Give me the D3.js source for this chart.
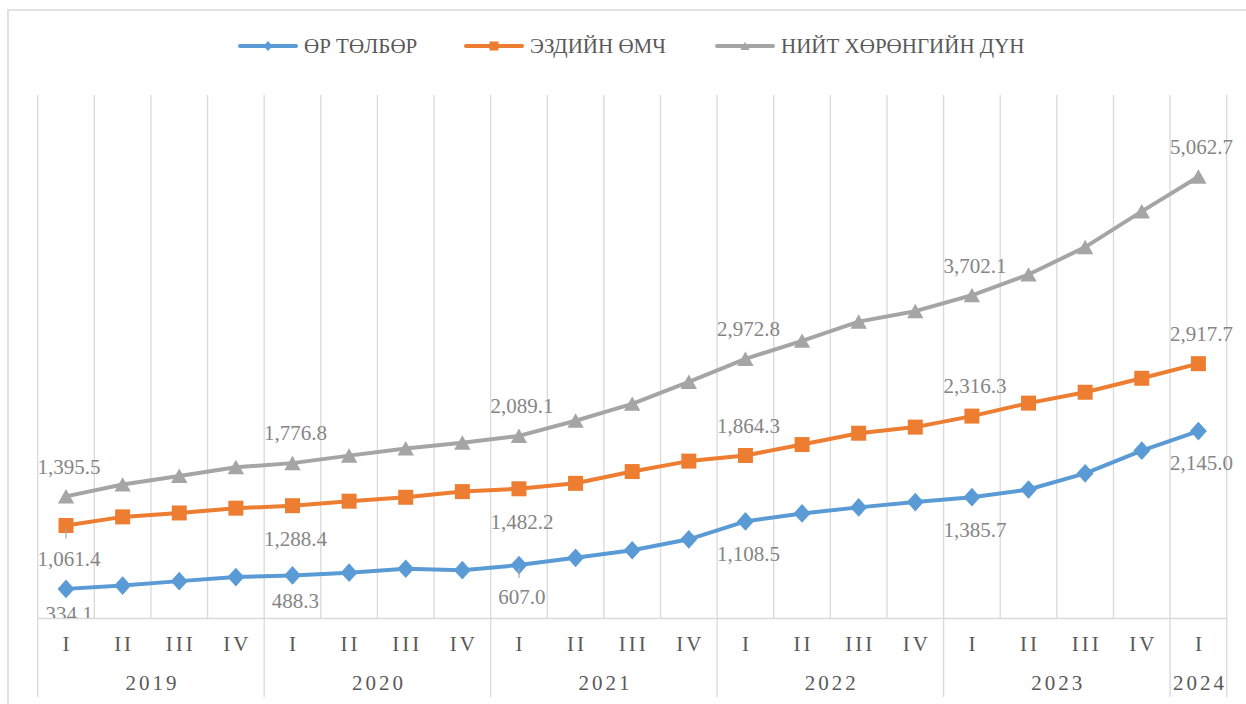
<!DOCTYPE html>
<html>
<head>
<meta charset="utf-8">
<script src="https://cdn.jsdelivr.net/npm/d3@7"></script>
<style>
  html, body { margin: 0; padding: 0; background: #fff; }
  svg { display: block; }
  text { font-family: "Liberation Serif", "DejaVu Serif", serif; }
</style>
</head>
<body>
<svg id="chart" width="1246" height="704"></svg>
<script>
// ---- Data ----
const categories = [
  "2019|I","2019|II","2019|III","2019|IV",
  "2020|I","2020|II","2020|III","2020|IV",
  "2021|I","2021|II","2021|III","2021|IV",
  "2022|I","2022|II","2022|III","2022|IV",
  "2023|I","2023|II","2023|III","2023|IV",
  "2024|I"
];
const years = ["2019","2020","2021","2022","2023","2024"];
const seriesNames = ["ӨР ТӨЛБӨР", "ЭЗДИЙН ӨМЧ", "НИЙТ ХӨРӨНГИЙН ДҮН"];
const debt = [334.1, 372, 423, 469, 488.3, 520, 565, 549, 607.0, 690, 777, 903,
              1108.5, 1200, 1269, 1330, 1385.7, 1474, 1660, 1920, 2145.0];
const equity = [1061.4, 1160, 1205, 1260, 1288.4, 1340, 1385, 1450, 1482.2, 1545, 1680, 1800,
                1864.3, 1990, 2120, 2190, 2316.3, 2465, 2590, 2750, 2917.7];
const total = [1395.5, 1531, 1630, 1730, 1776.8, 1863, 1945, 2011, 2089.1, 2263, 2457, 2709,
               2972.8, 3180, 3400, 3520, 3702.1, 3940, 4255, 4665, 5062.7];
const yDomain = [0, 6000];

(function () {
// ---- Layout / style ----
const colors = ["#5b9bd5", "#ed7d31", "#a5a5a5"];
const markers = ["diamond", "square", "triangle"];
const pLeft = 37.7, pRight = 1226.7, pTop = 95, pBottom = 618;
const gridColor = "#d9d9d9";
const svg = d3.select("#chart");

svg.append("rect").attr("width", 1246).attr("height", 704).attr("fill", "#fff");
svg.append("rect").attr("x", 8).attr("y", 10).attr("width", 1400).attr("height", 900)
  .attr("fill", "none").attr("stroke", gridColor).attr("stroke-width", 1.5);

const x = d3.scaleBand().domain(categories).range([pLeft, pRight]).padding(0);
const y = d3.scaleLinear().domain(yDomain).range([pBottom, pTop]);
const cx = c => x(c) + x.bandwidth() / 2;

// vertical gridlines at category boundaries
const boundaries = categories.map(c => x(c)).concat([pRight]);
svg.append("g").selectAll("line").data(boundaries).join("line")
  .attr("x1", d => d).attr("x2", d => d)
  .attr("y1", pTop).attr("y2", pBottom)
  .attr("stroke", gridColor).attr("stroke-width", 1.3);

// category axis (quarters)
const qAxis = d3.axisBottom(x).tickSize(0).tickFormat(c => c.split("|")[1]);
const qg = svg.append("g").attr("transform", `translate(0,${pBottom})`).call(qAxis);
qg.select(".domain").attr("stroke", gridColor).attr("stroke-width", 1.5);
qg.selectAll("text")
  .attr("y", 26).attr("dy", "0.35em")
  .attr("dx", 1.5)
  .attr("font-size", 21).attr("fill", "#595959")
  .attr("letter-spacing", "3px")
  .style("font-family", '"Liberation Serif", "DejaVu Serif", serif');

// year separators and labels
const yearStarts = years.map(yr => x(categories.find(c => c.startsWith(yr))));
const yearEnds = years.map(yr => {
  const cs = categories.filter(c => c.startsWith(yr));
  return x(cs[cs.length - 1]) + x.bandwidth();
});
const sepX = yearStarts.concat([pRight]);
svg.append("g").selectAll("line").data(sepX).join("line")
  .attr("x1", d => d).attr("x2", d => d)
  .attr("y1", pBottom).attr("y2", 697)
  .attr("stroke", gridColor).attr("stroke-width", 1.3);
svg.append("g").selectAll("text").data(years).join("text")
  .attr("x", (d, i) => (yearStarts[i] + yearEnds[i]) / 2 + 1.5)
  .attr("y", 683).attr("dy", "0.35em")
  .attr("text-anchor", "middle")
  .attr("font-size", 21).attr("fill", "#595959")
  .attr("letter-spacing", "3px")
  .text(d => d);

function markerPath(type, s) {
  if (type === "diamond") return `M0,${-s * 1.1}L${s},0L0,${s * 1.1}L${-s},0Z`;
  if (type === "square") return `M${-s},${-s}H${s}V${s}H${-s}Z`;
  return `M0,${-s * 0.95}L${s * 1.05},${s * 0.9}L${-s * 1.05},${s * 0.9}Z`;
}
const markerSize = [8.5, 7.5, 7.8];

const allSeries = [debt, equity, total];
const line = d3.line().x((d, i) => cx(categories[i])).y(d => y(d));

allSeries.forEach((vals, si) => {
  const g = svg.append("g");
  g.append("path").datum(vals).attr("d", line)
    .attr("fill", "none").attr("stroke", colors[si])
    .attr("stroke-width", 4).attr("stroke-linejoin", "round");
  g.selectAll("path.m").data(vals).join("path").attr("class", "m")
    .attr("transform", (d, i) => `translate(${cx(categories[i])},${y(d)})`)
    .attr("d", markerPath(markers[si], markerSize[si]))
    .attr("fill", colors[si]);
});

// data labels (first quarter of each year)
svg.append("defs").append("clipPath").attr("id", "lblclip")
  .append("rect").attr("x", 0).attr("y", 0).attr("width", 1246).attr("height", pBottom);
const lblG = svg.append("g").attr("clip-path", "url(#lblclip)");
const fmt = d3.format(",.1f");
const labelOffset = (si, c) => {
  const yr = +c.split("|")[0];
  if (si === 2) return -30;
  if (si === 1) return yr >= 2022 ? -30 : 33;
  return yr === 2019 || yr === 2020 ? 25 : 32;
};
allSeries.forEach((vals, si) => {
  vals.forEach((v, i) => {
    const c = categories[i];
    if (c.split("|")[1] !== "I") return;
    lblG.append("text")
      .attr("x", cx(c) + 3)
      .attr("y", y(v) + labelOffset(si, c))
      .attr("dy", "0.35em")
      .attr("text-anchor", "middle")
      .attr("font-size", 21).attr("fill", "#858585")
      .text(fmt(v));
  });
});
const leaders = [[1, 0], [0, 8]];
leaders.forEach(([si, i]) => {
  const px = cx(categories[i]), py = y(allSeries[si][i]);
  svg.append("line").attr("x1", px).attr("x2", px)
    .attr("y1", py + 3).attr("y2", py + 13)
    .attr("stroke", "#a6a6a6").attr("stroke-width", 1.2);
});

// legend
const legendItems = [
  { x0: 240, x1: 296, tx: 304 },
  { x0: 466, x1: 522, tx: 530 },
  { x0: 717, x1: 773, tx: 781 }
];
const legY = 46;
const lg = svg.append("g");
seriesNames.forEach((name, si) => {
  const it = legendItems[si];
  lg.append("line").attr("x1", it.x0).attr("x2", it.x1).attr("y1", legY).attr("y2", legY)
    .attr("stroke", colors[si]).attr("stroke-width", 4).attr("stroke-linecap", "round");
  lg.append("path")
    .attr("transform", `translate(${(it.x0 + it.x1) / 2},${legY})`)
    .attr("d", markerPath(markers[si], 4.5)).attr("fill", colors[si]);
  lg.append("text").attr("x", it.tx).attr("y", legY).attr("dy", "0.35em")
    .attr("font-size", 21).attr("fill", "#595959").text(name);
});
})();
</script>
</body>
</html>
